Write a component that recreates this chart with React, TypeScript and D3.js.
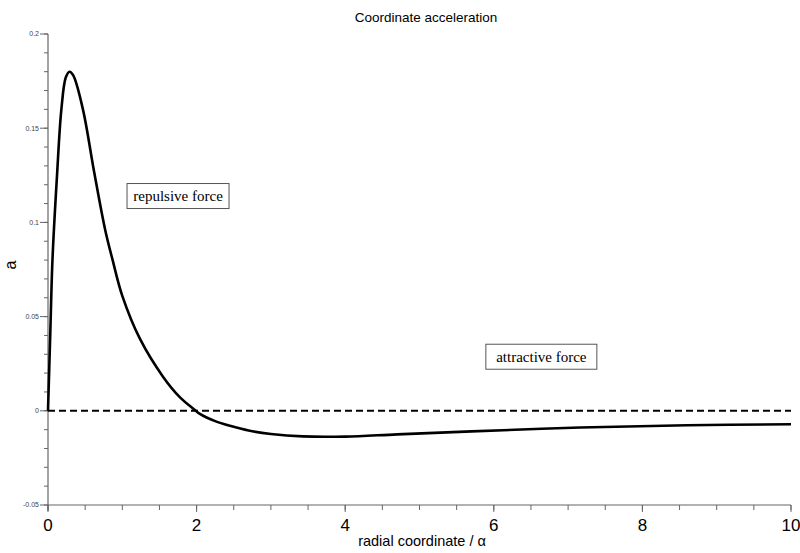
import React from 'react';
import * as d3 from 'd3';

const width = 800;
const height = 553;
const margin = { top: 34, left: 48, right: 9, bottom: 48 };

// radial coordinate (in units of alpha) and coordinate acceleration
const radius = [0, 0.03, 0.06, 0.12, 0.18, 0.24, 0.29, 0.34, 0.47, 0.62, 0.77, 0.87, 1.0, 1.24, 1.55, 1.78, 1.96, 2.05, 2.25, 2.45, 2.7, 3.0, 3.43, 4.0, 4.7, 5.7, 7.16, 8.6, 10];
const accel = [0, 0.04, 0.08, 0.124, 0.16, 0.177, 0.18, 0.178, 0.16, 0.127, 0.096, 0.08, 0.061, 0.038, 0.018, 0.007, 0.001, -0.0018, -0.0055, -0.008, -0.0105, -0.0123, -0.0136, -0.0137, -0.0125, -0.0109, -0.0089, -0.0077, -0.0071];

const xTicks = [0, 2, 4, 6, 8, 10];
const yTicks = [-0.05, 0, 0.05, 0.1, 0.15, 0.2];
const yTickLabels = ['-0.05', '0', '0.05', '0.1', '0.15', '0.2'];

const notes = [
  { text: 'repulsive force', x: 1.75, y: 0.114, w: 102 },
  { text: 'attractive force', x: 6.64, y: 0.0287, w: 111 },
];

const x = d3.scaleLinear().domain([0, 10]).range([margin.left, width - margin.right]);
const y = d3.scaleLinear().domain([-0.05, 0.2]).range([height - margin.bottom, margin.top]);

const line = d3.line<number>()
  .x((d, i) => x(radius[i]))
  .y(d => y(d))
  .curve(d3.curveCatmullRom.alpha(0.5));

const xMinor = d3.range(0, 10.001, 0.5);
const yMinor = d3.range(-0.05, 0.2001, 0.01);

export default function App() {
  const axisColor = '#666';
  return (
    <svg width={width} height={height} style={{ position: 'absolute', left: 0, top: 0, background: '#fff' }}>
      <text x={426} y={22} textAnchor="middle" fontFamily="Liberation Sans, Arial, sans-serif" fontSize={13.5}>
        Coordinate acceleration
      </text>

      {/* y axis */}
      <line x1={x(0)} x2={x(0)} y1={y(0.2)} y2={y(-0.05) + 6} stroke={axisColor} strokeWidth={1.2} />
      {yMinor.map((v, i) => (
        <line key={'ym' + i} x1={x(0) - 4} x2={x(0)} y1={y(v)} y2={y(v)} stroke={axisColor} strokeWidth={1} />
      ))}
      {yTicks.map((v, i) => (
        <g key={'yt' + i}>
          <line x1={x(0) - 8} x2={x(0)} y1={y(v)} y2={y(v)} stroke={axisColor} strokeWidth={1} />
          <text x={x(0) - 9} y={y(v)} dy="0.35em" textAnchor="end" fontFamily="Liberation Sans, Arial, sans-serif" fontSize={7} fill="#444">
            {yTickLabels[i]}
          </text>
        </g>
      ))}
      <text transform={`translate(16,265) rotate(-90)`} textAnchor="middle" fontFamily="Liberation Sans, Arial, sans-serif" fontSize={16}>
        a
      </text>

      {/* x axis */}
      <line x1={x(0)} x2={x(10)} y1={y(-0.05)} y2={y(-0.05)} stroke={axisColor} strokeWidth={1.2} />
      {xMinor.map((v, i) => (
        <line key={'xm' + i} x1={x(v)} x2={x(v)} y1={y(-0.05)} y2={y(-0.05) + 5} stroke={axisColor} strokeWidth={1} />
      ))}
      {xTicks.map((v, i) => (
        <g key={'xt' + i}>
          <line x1={x(v)} x2={x(v)} y1={y(-0.05)} y2={y(-0.05) + 7} stroke={axisColor} strokeWidth={1} />
          <text x={x(v)} y={531} textAnchor="middle" fontFamily="Liberation Sans, Arial, sans-serif" fontSize={17}>
            {v}
          </text>
        </g>
      ))}
      <text x={422} y={546} textAnchor="middle" fontFamily="Liberation Sans, Arial, sans-serif" fontSize={14.5}>
        radial coordinate / α
      </text>

      {/* zero line and curve */}
      <line x1={x(0)} x2={x(10)} y1={y(0)} y2={y(0)} stroke="#000" strokeWidth={2} strokeDasharray="7,4" />
      <path d={line(accel) || ''} fill="none" stroke="#000" strokeWidth={2.6} strokeLinejoin="round" />

      {notes.map((n, i) => (
        <g key={'n' + i} transform={`translate(${x(n.x)},${y(n.y)})`}>
          <rect x={-n.w / 2} y={-12.5} width={n.w} height={25} fill="#fff" stroke="#555" strokeWidth={1} />
          <text x={0} y={0} dy="0.33em" textAnchor="middle" fontFamily="Liberation Serif, Times New Roman, serif" fontSize={15}>
            {n.text}
          </text>
        </g>
      ))}
    </svg>
  );
}
